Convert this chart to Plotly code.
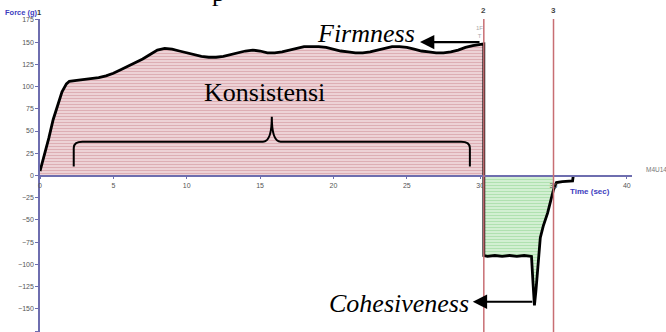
import plotly.graph_objects as go

# Compression stage (probe going down), time in s, force in g
time_load = [0, 0.3, 0.6, 0.9, 1.2, 1.5, 1.8, 2.0, 2.5, 3.0, 3.5, 4.0, 4.5, 5.0, 5.5, 6.0,
             6.5, 7.0, 7.5, 8.0, 8.5, 9.0, 9.5, 10.0, 10.5, 11.0, 11.5, 12.0, 12.5, 13.0,
             13.5, 14.0, 14.5, 15.0, 15.5, 16.0, 16.5, 17.0, 17.5, 18.0, 18.5, 19.0, 19.5,
             20.0, 20.5, 21.0, 21.5, 22.0, 22.5, 23.0, 23.5, 24.0, 24.5, 25.0, 25.5, 26.0,
             26.5, 27.0, 27.5, 28.0, 28.5, 29.0, 29.5, 30.0, 30.25]
force_load = [5, 22, 42, 63, 80, 94, 103, 106, 107, 108, 109, 110, 112, 115, 119, 123,
              127, 131, 136, 141, 143, 142, 140, 138, 136, 134, 133, 133, 134, 136,
              138, 140, 141, 140, 138, 138, 139, 141, 143, 145, 145, 145, 144,
              142, 140, 139, 138, 138, 139, 141, 143, 145, 145, 144, 142, 140,
              139, 138, 138, 139, 141, 144, 146, 147, 148]

# Withdrawal stage
time_pull = [30.25, 30.5, 31.0, 31.5, 32.0, 32.5, 33.0, 33.5, 33.6, 33.7, 33.8, 33.9,
             34.1, 34.3, 34.6, 35.0, 35.2, 35.6, 36.0, 36.3, 36.35]
force_pull = [-90, -91, -90, -91, -90, -91, -90, -91, -120, -146, -130, -110,
              -70, -57, -42, -16, -8, -7, -6, -6, 0]

anchor_times = [30.25, 35.0]
anchor_labels = ["2", "3"]
y_ticks = [175, 150, 125, 100, 75, 50, 25, 0, -25, -50, -75, -100, -125, -150, -175]
x_ticks = [0, 5, 10, 15, 20, 25, 30, 35, 40]

green_t = [t for t in time_pull if t <= anchor_times[1]]
green_f = force_pull[:len(green_t)]

fig = go.Figure()
fig.add_trace(go.Scatter(
    x=time_load, y=force_load, mode="lines", line=dict(width=0),
    fill="tozeroy", fillcolor="rgba(0,0,0,0)",
    fillpattern=dict(shape="-", fgcolor="rgb(200,125,135)", bgcolor="rgb(242,222,225)",
                     size=3, solidity=0.5),
    hoverinfo="skip", showlegend=False))
fig.add_trace(go.Scatter(
    x=green_t, y=green_f, mode="lines", line=dict(width=0),
    fill="tozeroy", fillcolor="rgba(0,0,0,0)",
    fillpattern=dict(shape="-", fgcolor="rgb(130,205,130)", bgcolor="rgb(222,244,222)",
                     size=3, solidity=0.5),
    hoverinfo="skip", showlegend=False))
fig.add_trace(go.Scatter(
    x=time_load + time_pull, y=force_load + force_pull, mode="lines",
    line=dict(color="black", width=2.8), showlegend=False))

for t, lab in zip(anchor_times, anchor_labels):
    fig.add_shape(type="line", xref="x", yref="paper", x0=t, x1=t, y0=0, y1=1,
                  line=dict(color="rgb(200,110,115)", width=1.5))
    fig.add_annotation(x=t, xref="x", y=1, yref="paper", yanchor="middle", yshift=9,
                       text="<b>" + lab + "</b>", showarrow=False,
                       font=dict(family="Arial", size=8, color="#444"))

# brace
fig.add_shape(type="path", xref="x", yref="y",
              path="M 2.3,10 L 2.3,31 Q 2.3,38 2.9,38 L 15.2,38 Q 15.8,38 15.8,66 "
                   "Q 15.8,38 16.4,38 L 28.7,38 Q 29.3,38 29.3,31 L 29.3,10",
              line=dict(color="black", width=2))

serif = "Liberation Serif, Times New Roman, serif"
fig.add_annotation(x=25.9, y=150, xref="x", yref="y", ax=61, ay=0, text="",
                   showarrow=True, arrowhead=2, arrowsize=1.3, arrowwidth=2.2,
                   arrowcolor="black")
fig.add_annotation(x=29.5, y=-142, xref="x", yref="y", ax=61, ay=0, text="",
                   showarrow=True, arrowhead=2, arrowsize=1.3, arrowwidth=2.2,
                   arrowcolor="black")
fig.add_annotation(x=(366 - 40) / 14.675, y=(176 - 34) / 0.889, xref="x", yref="y",
                   text="<i>Firmness</i>", showarrow=False,
                   font=dict(family=serif, size=26, color="black"))
fig.add_annotation(x=(265 - 40) / 14.675, y=(176 - 93) / 0.889, xref="x", yref="y",
                   text="Konsistensi", showarrow=False,
                   font=dict(family=serif, size=26, color="black"))
fig.add_annotation(x=(399 - 40) / 14.675, y=(176 - 304) / 0.889, xref="x", yref="y",
                   text="<i>Cohesiveness</i>", showarrow=False,
                   font=dict(family=serif, size=26, color="black"))
fig.add_annotation(x=(210 - 40) / 592, xref="paper", y=1, yref="paper", yanchor="bottom",
                   yshift=10, text="p", showarrow=False,
                   font=dict(family=serif, size=26, color="black"))

fig.add_annotation(x=0, xref="paper", y=1, yref="paper", xanchor="right", yanchor="middle",
                   xshift=3, yshift=7,
                   text="<b>Force (g)</b><span style='color:#333'><b>1</b></span>",
                   showarrow=False, font=dict(family="Arial", size=7.5, color="rgb(60,60,190)"))
fig.add_annotation(x=(612 - 40) / 592, xref="paper", y=0.5, yref="paper", yshift=-16,
                   text="<b>Time (sec)</b>", showarrow=False,
                   font=dict(family="Arial", size=8, color="rgb(60,60,190)"))
fig.add_annotation(x=1, xref="paper", y=0.5, yref="paper", xanchor="left", xshift=12,
                   yshift=6, text="M4U14", showarrow=False,
                   font=dict(family="Arial", size=6.5, color="#777"))
fig.add_annotation(x=29.95, xref="x", y=1, yref="paper", yanchor="top", yshift=-4,
                   text="1F<br>T", showarrow=False,
                   font=dict(family="Arial", size=6, color="#aaa"))

axis_color = "rgb(110,110,175)"
fig.update_layout(
    width=666, height=332, margin=dict(l=40, r=34, t=19, b=0),
    paper_bgcolor="white", plot_bgcolor="white",
    xaxis=dict(range=[0, 40.35], tickvals=x_ticks, ticks="outside", ticklen=3,
               tickcolor=axis_color, showline=True, linecolor=axis_color, linewidth=1.5,
               showgrid=False, zeroline=False, anchor="free", position=0.5,
               tickfont=dict(family="Arial", size=7, color="#555")),
    yaxis=dict(range=[-176, 176], tickvals=y_ticks, ticks="outside", ticklen=3,
               tickcolor=axis_color, showline=True, linecolor=axis_color, linewidth=1.5,
               showgrid=False, zeroline=False,
               tickfont=dict(family="Arial", size=7, color="#555")),
)

fig.write_html("out.html", config={"displayModeBar": False},
               post_script="document.body.style.margin='0px';"
                           "document.body.style.overflow='hidden';")
